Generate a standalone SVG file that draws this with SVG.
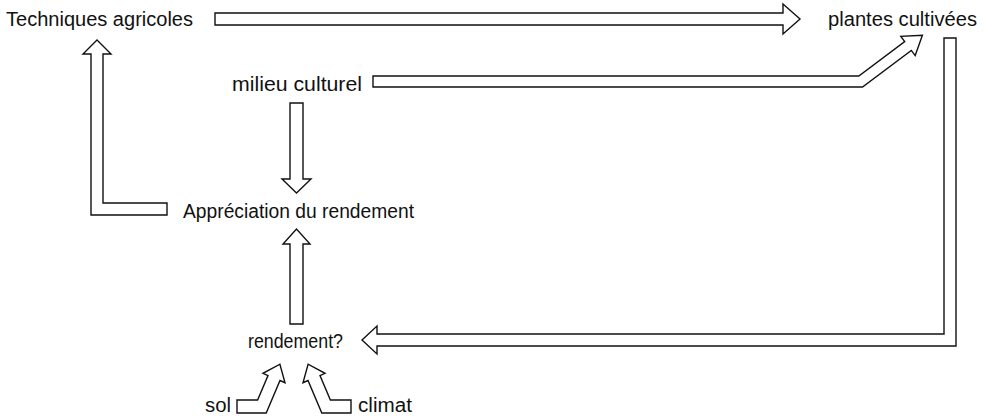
<svg xmlns="http://www.w3.org/2000/svg" width="984" height="417" viewBox="0 0 984 417">
<style>
.bg{fill:#ffffff}
.arr{fill:#ffffff;stroke:#111111;stroke-width:1.4;stroke-linejoin:miter}
.lbl{font-family:"Liberation Sans","DejaVu Sans",sans-serif;font-size:19.5px;fill:#111111}
</style>
<rect class="bg" x="0" y="0" width="984" height="417"/>
<g id="connectors">
  <polygon id="c-tech-plantes" class="arr" points="215,13 783,13 783,4 800,19 783,34 783,25 215,25"/>
  <polygon id="c-milieu-plantes" class="arr" points="373,76 858.8,76 904.7,41.6 900.8,36.4 922.4,35.2 915.2,55.6 911.3,50.4 862.5,87 373,87"/>
  <polygon id="c-plantes-rendement" class="arr" points="944,38 956,38 956,346 377,346 377,354 362,340 377,326 377,334 944,334"/>
  <polygon id="c-milieu-appreciation" class="arr" points="290,103 303,103 303,179 311,179 296.5,193 282,179 290,179"/>
  <polygon id="c-rendement-appreciation" class="arr" points="290,324 290,244 283,244 296.5,229 310,244 303,244 303,324"/>
  <polygon id="c-appreciation-tech" class="arr" points="167,203 103,203 103,54 111,54 97,40 83,54 91,54 91,215 167,215"/>
  <polygon id="c-sol-rendement" class="arr" points="237,400 257.6,400 268,375.5 263,373.3 279.9,364.2 285,382.7 280,380.5 266.2,413 237,413"/>
  <polygon id="c-climat-rendement" class="arr" points="351,400 330.4,400 320,375.5 325,373.3 308.1,364.2 303,382.7 308,380.5 321.8,413 351,413"/>
</g>
<g id="n-techniques"><text class="lbl" x="6" y="26" textLength="187" lengthAdjust="spacingAndGlyphs">Techniques agricoles</text></g>
<g id="n-plantes"><text class="lbl" x="828" y="26" textLength="149" lengthAdjust="spacingAndGlyphs">plantes cultivées</text></g>
<g id="n-milieu"><text class="lbl" x="232" y="91" textLength="130" lengthAdjust="spacingAndGlyphs">milieu culturel</text></g>
<g id="n-appreciation"><text class="lbl" x="183" y="218" textLength="231" lengthAdjust="spacingAndGlyphs">Appréciation du rendement</text></g>
<g id="n-rendement"><text class="lbl" x="248" y="348" textLength="95" lengthAdjust="spacingAndGlyphs">rendement?</text></g>
<g id="n-sol"><text class="lbl" x="205" y="412" textLength="26" lengthAdjust="spacingAndGlyphs">sol</text></g>
<g id="n-climat"><text class="lbl" x="358" y="412" textLength="54" lengthAdjust="spacingAndGlyphs">climat</text></g>
</svg>
